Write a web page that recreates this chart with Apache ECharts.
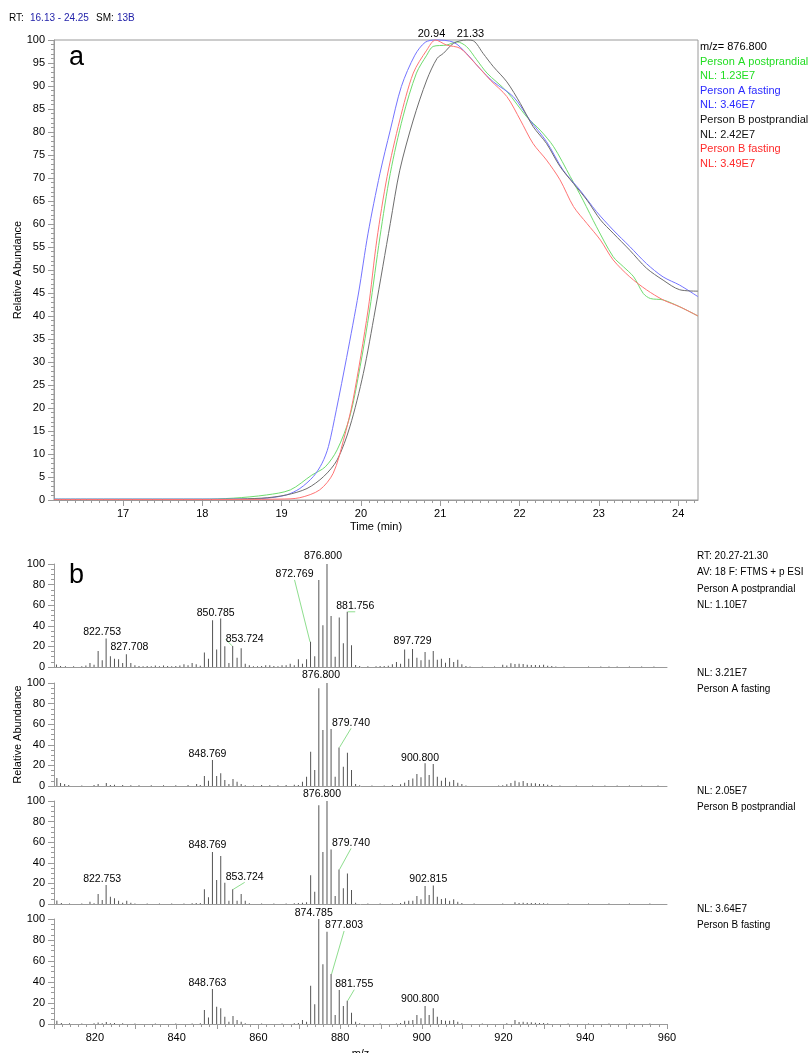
<!DOCTYPE html>
<html><head><meta charset="utf-8">
<script src="https://cdn.jsdelivr.net/npm/echarts@6/dist/echarts.min.js"></script>
<style>html,body{margin:0;padding:0;background:#fff}#c{width:810px;height:1053px}</style>
</head><body><div id="c"></div>
<script>
// ---------- Panel a: extracted ion chromatograms [time (min), relative abundance] ----------
const personAPostprandial = [[16.13,0.2],[17.0,0.2],[18.0,0.2],[18.39,0.4],[18.81,1.1],[19.11,2.2],[19.38,5.4],[19.55,7.2],[19.70,10.9],[19.86,18.1],[19.99,29],[20.11,41.3],[20.24,57.2],[20.37,71],[20.53,83.3],[20.70,92.8],[20.83,96.7],[20.91,98.6],[21.08,98.9],[21.21,99.6],[21.33,98.6],[21.46,95.7],[21.59,92.8],[21.84,88.8],[22.09,83.3],[22.26,80.4],[22.43,76.8],[22.64,70.3],[22.80,65.2],[22.97,59.4],[23.18,52.9],[23.31,50.7],[23.44,48.5],[23.56,44.9],[23.65,43.8],[23.81,43.5],[24.02,42],[24.25,40]];
const personAFasting = [[16.13,0.2],[17.0,0.2],[18.0,0.2],[18.5,0.2],[18.81,0.4],[19.06,1.1],[19.23,2.5],[19.40,5.1],[19.51,8],[19.59,11.6],[19.69,19.6],[19.82,31],[19.97,45],[20.09,58],[20.24,71],[20.37,80.4],[20.51,89.9],[20.68,96.7],[20.81,99.5],[20.94,100],[21.17,99.5],[21.33,97.1],[21.50,93.8],[21.67,90.9],[21.92,87.7],[22.13,82.6],[22.34,77.9],[22.55,71.7],[22.76,67.4],[22.97,62.7],[23.18,58.7],[23.39,55.1],[23.60,51.4],[23.81,48.5],[24.02,46.7],[24.25,44.2]];
const personBPostprandial = [[16.13,0.1],[17.0,0.1],[18.0,0.1],[18.75,0.4],[19.06,1.1],[19.32,2.5],[19.53,5.1],[19.70,8.7],[19.86,15.9],[20.03,27.5],[20.18,41.3],[20.37,60.1],[20.49,71.7],[20.66,82.6],[20.83,91.3],[20.96,96],[21.04,97.1],[21.17,99.3],[21.33,100],[21.42,99.8],[21.54,97.1],[21.67,94.2],[21.84,90.9],[22.01,86.2],[22.17,81.2],[22.34,77.5],[22.51,72.5],[22.68,68.8],[22.85,65.2],[23.02,60.9],[23.18,58],[23.39,54.3],[23.60,50.4],[23.81,47.8],[24.02,45.7],[24.25,45.4]];
const personBFasting = [[16.13,0.1],[17.0,0.1],[18.0,0.1],[18.98,0.2],[19.23,0.5],[19.48,2.2],[19.65,5.8],[19.78,13],[19.90,21.7],[20.09,41.3],[20.20,56.5],[20.33,70.3],[20.49,82.6],[20.66,92.8],[20.83,97.8],[20.94,100],[21.08,98.9],[21.25,98.2],[21.42,95.3],[21.63,91.3],[21.84,87.7],[22.01,82.6],[22.17,77.5],[22.34,73.9],[22.51,69.6],[22.68,63.8],[22.85,60.1],[23.02,56.5],[23.18,52.2],[23.39,48.5],[23.60,45.7],[23.81,43.5],[24.02,42],[24.25,40]];
const timeRange = [16.13, 24.25];
const timeTicks = [17, 18, 19, 20, 21, 22, 23, 24];
const apexLabels = [[20.94, 100], [21.33, 100]];
const chromHeader = ['RT:', '16.13 - 24.25', 'SM:', '13B'];
const chromLegend = ['m/z= 876.800', 'Person A postprandial', 'NL: 1.23E7', 'Person A fasting', 'NL: 3.46E7', 'Person B postprandial', 'NL: 2.42E7', 'Person B fasting', 'NL: 3.49E7'];

// ---------- Panel b: averaged mass spectra [m/z, relative abundance] ----------
const specAPostprandial = [[810.6,2.5],[811.6,1.0],[812.8,0.8],[814.8,0.8],[816.8,0.8],[817.8,1.5],[818.8,3.9],[819.8,2.3],[820.8,15.6],[821.8,6.5],[822.753,27.6],[823.8,10.4],[824.8,8.1],[825.8,7.5],[826.8,3.9],[827.708,12.3],[828.8,3.9],[829.8,1.6],[830.8,1.0],[831.8,0.8],[832.8,1.0],[833.8,0.8],[834.8,1.5],[835.8,0.8],[836.8,1.5],[837.8,1.0],[838.8,0.8],[839.8,1.0],[840.8,1.5],[841.8,2.6],[842.8,1.6],[843.8,3.9],[844.8,2.6],[845.8,1.2],[846.8,14.0],[847.8,8.1],[848.8,45.5],[849.8,16.9],[850.785,47.0],[851.8,20.1],[852.8,3.9],[853.724,20.5],[854.8,9.1],[855.8,18.2],[856.8,3.2],[857.8,1.6],[858.8,0.8],[859.8,0.8],[860.8,1.0],[861.8,1.6],[862.8,1.6],[863.8,1.0],[864.8,0.7],[865.8,1.6],[866.8,1.6],[867.8,3.2],[868.8,1.6],[869.8,7.5],[870.8,3.2],[871.8,7.5],[872.769,24.4],[873.8,10.4],[874.8,84.4],[875.8,40.6],[876.800,100],[877.8,49.4],[878.8,10.0],[879.8,48.0],[880.8,23.0],[881.756,53.6],[882.8,21.0],[883.8,2.0],[884.8,1.0],[886.8,0.8],[888.8,0.8],[889.8,1.0],[890.8,1.0],[891.8,1.2],[892.8,2.6],[893.8,4.9],[894.8,3.2],[895.8,16.9],[896.8,8.1],[897.729,17.5],[898.8,9.1],[899.8,6.5],[900.8,14.6],[901.8,7.1],[902.8,15.6],[903.8,7.1],[904.8,8.1],[905.8,4.2],[906.8,8.8],[907.8,4.9],[908.8,7.1],[909.8,2.6],[910.8,1.0],[911.8,0.5],[914.8,0.4],[917.8,0.5],[919.8,2.3],[920.8,1.5],[921.8,3.6],[922.8,2.9],[923.8,3.2],[924.8,2.9],[925.8,2.3],[926.8,2.0],[927.8,2.0],[928.8,1.6],[929.8,2.3],[930.8,1.3],[931.8,1.0],[932.8,0.6],[934.8,0.4],[940.8,0.4],[943.8,0.5],[945.8,0.5],[947.8,0.4],[950.8,0.4],[953.8,0.4],[956.8,0.4]];
const specAFasting = [[810.7,7.7],[811.6,2.9],[812.6,1.9],[813.6,1.0],[816.8,0.5],[819.8,1.0],[820.8,1.9],[822.8,2.9],[823.8,1.0],[824.8,1.3],[826.8,1.0],[828.8,0.8],[830.8,0.8],[833.8,0.8],[836.8,0.8],[839.8,0.8],[842.8,1.0],[844.9,1.9],[845.8,1.0],[846.8,9.7],[847.8,5.2],[848.769,25.2],[849.8,9.7],[850.8,12.3],[851.8,5.8],[852.8,1.9],[853.8,6.8],[854.8,4.2],[855.8,1.9],[856.8,0.8],[858.8,0.6],[860.8,1.0],[862.8,0.8],[864.8,0.8],[866.8,1.0],[868.8,1.2],[869.8,1.0],[870.8,4.2],[871.8,9.1],[872.8,33.3],[873.8,15.5],[874.8,94.8],[875.8,54.4],[876.800,100],[877.8,55.3],[878.8,9.0],[879.740,37.5],[880.8,18.8],[881.8,32.4],[882.8,15.5],[883.8,1.9],[884.8,0.8],[887.8,0.6],[890.8,0.6],[892.8,1.0],[894.8,1.6],[895.8,3.2],[896.8,5.8],[897.8,7.4],[898.8,11.7],[899.8,8.4],[900.800,22.0],[901.8,10.7],[902.8,21.4],[903.8,9.1],[904.8,5.2],[905.8,8.1],[906.8,4.2],[907.8,5.8],[908.8,3.2],[909.8,1.9],[910.8,0.6],[918.8,0.5],[919.8,0.8],[920.8,1.6],[921.8,2.9],[922.8,5.2],[923.8,3.6],[924.8,4.9],[925.8,2.9],[926.8,2.6],[927.8,2.6],[928.8,1.9],[929.8,1.9],[930.8,1.3],[931.8,1.0],[933.8,0.5],[937.8,0.4],[941.8,0.4],[944.8,0.4],[947.8,0.4],[950.8,0.4],[953.8,0.4],[957.8,0.4]];
const specBPostprandial = [[810.7,3.5],[811.8,1.0],[813.8,0.6],[816.8,0.5],[818.8,2.3],[819.8,0.8],[820.8,9.7],[821.8,3.9],[822.753,18.4],[823.8,7.1],[824.8,5.5],[825.8,3.2],[826.8,1.3],[827.8,3.2],[828.8,1.3],[829.8,0.6],[832.8,0.5],[835.8,0.5],[838.8,0.6],[841.8,0.6],[843.8,0.8],[844.8,1.0],[845.8,1.0],[846.8,14.2],[847.8,6.5],[848.769,50.6],[849.8,23.2],[850.8,46.5],[851.8,20.6],[852.8,3.2],[853.724,14.2],[854.8,3.2],[855.8,9.7],[856.8,3.2],[857.8,0.8],[860.8,0.5],[863.8,0.5],[866.8,0.6],[868.8,0.8],[869.8,1.0],[870.8,1.3],[871.8,1.6],[872.8,28.0],[873.8,11.9],[874.8,95.8],[875.8,50.6],[876.800,100],[877.8,52.9],[878.8,7.7],[879.740,33.5],[880.8,15.2],[881.8,29.7],[882.8,13.5],[883.8,1.3],[886.8,0.5],[889.8,0.5],[892.8,0.6],[894.8,1.0],[895.8,2.3],[896.8,3.2],[897.8,3.2],[898.8,7.7],[899.8,4.5],[900.8,17.4],[901.8,8.7],[902.815,18.0],[903.8,7.1],[904.8,4.8],[905.8,5.5],[906.8,3.2],[907.8,4.5],[908.8,2.3],[909.8,1.0],[912.8,0.4],[919.8,0.4],[922.8,1.6],[923.8,1.0],[924.8,1.3],[925.8,1.0],[926.8,1.0],[927.8,1.0],[928.8,0.8],[929.8,0.8],[930.8,0.6],[935.8,0.4],[940.8,0.4],[945.8,0.4],[950.8,0.4],[955.8,0.4]];
const specBFasting = [[810.7,3.2],[811.8,1.0],[813.8,0.6],[816.8,0.5],[819.8,0.6],[820.8,1.5],[821.8,0.8],[822.8,2.0],[823.8,0.8],[824.8,1.0],[826.8,0.6],[829.8,0.4],[834.8,0.4],[839.8,0.4],[843.8,0.5],[845.8,0.8],[846.8,13.3],[847.8,6.3],[848.763,33.3],[849.8,16.5],[850.8,14.9],[851.8,7.0],[852.8,2.2],[853.8,7.6],[854.8,3.8],[855.8,2.2],[856.8,0.6],[860.8,0.4],[865.8,0.4],[868.8,0.6],[869.8,1.0],[870.8,3.8],[871.8,2.2],[872.8,36.5],[873.8,18.7],[874.785,100],[875.8,56.8],[876.8,87.9],[877.803,47.6],[878.8,8.6],[879.8,32.4],[880.8,17.1],[881.755,22.2],[882.8,10.8],[883.8,2.2],[884.8,0.6],[889.8,0.4],[893.8,0.5],[894.8,1.0],[895.8,3.2],[896.8,3.2],[897.8,3.8],[898.8,8.6],[899.8,5.4],[900.800,17.1],[901.8,8.6],[902.8,14.9],[903.8,7.0],[904.8,3.8],[905.8,3.2],[906.8,3.2],[907.8,3.8],[908.8,2.2],[909.8,0.8],[914.8,0.4],[920.8,0.6],[922.8,3.8],[923.8,2.0],[924.8,2.2],[925.8,1.6],[926.8,1.6],[927.8,1.3],[928.8,1.0],[929.8,1.0],[930.8,0.6],[935.8,0.4],[940.8,0.4],[945.8,0.4],[950.8,0.4],[955.8,0.4]];
const mzRange = [810, 960];
const labeledAPostprandial = [822.753, 827.708, 850.785, 853.724, 872.769, 876.800, 881.756, 897.729];
const labeledAFasting = [848.769, 876.800, 879.740, 900.800];
const labeledBPostprandial = [822.753, 848.769, 853.724, 876.800, 879.740, 902.815];
const labeledBFasting = [848.763, 874.785, 877.803, 881.755, 900.800];
const notesAPostprandial = ['RT: 20.27-21.30', 'AV: 18 F: FTMS + p ESI', 'Person A postprandial', 'NL: 1.10E7'];
const notesAFasting = ['NL: 3.21E7', 'Person A fasting'];
const notesBPostprandial = ['NL: 2.05E7', 'Person B postprandial'];
const notesBFasting = ['NL: 3.64E7', 'Person B fasting'];

// ---------- styling / layout (not data) ----------
const FONT = '"Liberation Sans", Arial, Helvetica, sans-serif';
const AXIS = '#9a9a9a';
const C_GREEN = '#22dd22', C_BLUE = '#2a2aff', C_RED = '#ff2a2a';
const LINE_COL = ['#6fdc6f', '#7474ff', '#6e6e6e', '#ff7474'];
// label offsets [dx, dy, leader?] aligned with labeled lists
const offAPost = [[-4,1],[3,0],[-5,2],[12,1,1],[-16,-60,1],[-4,0],[8,2,1],[0,0]];
const offAFast = [[-5,2],[-6,0],[12,-17,1],[-5,2]];
const offBPost = [[-4,2],[-5,1],[12,-5,1],[-5,1],[12,-19,1],[-5,1]];
const offBFast = [[-5,2],[-5,2],[13,-41,1],[7,-9,1],[-5,1]];
const apexOffsets = [[-4, 0], [4, 0]];
const specTops = [564, 683, 801, 919];
const specH = [103, 103, 103, 105];

const minorTimeTicks = [];
for (let k = 162; k <= 242; k++) minorTimeTicks.push(k / 10);

function buildSpectrum(peaks, labeled, offsets) {
  const data = [], layouts = {};
  peaks.forEach(([mz, v], i) => {
    const k = labeled.findIndex(l => Math.abs(l - mz) < 1e-6);
    if (k >= 0) {
      const o = offsets[k];
      data.push({
        value: [mz, v],
        label: { show: true, formatter: mz.toFixed(3) },
        labelLine: { show: !!o[2], lineStyle: { color: '#8ede8e', width: 1 } }
      });
      layouts[i] = { dx: o[0], dy: o[1] };
    } else {
      data.push([mz, v]);
    }
  });
  return { data, layouts };
}

const spectra = [
  buildSpectrum(specAPostprandial, labeledAPostprandial, offAPost),
  buildSpectrum(specAFasting, labeledAFasting, offAFast),
  buildSpectrum(specBPostprandial, labeledBPostprandial, offBPost),
  buildSpectrum(specBFasting, labeledBFasting, offBFast)
];

const chart = echarts.init(document.getElementById('c'), null, { renderer: 'canvas' });

const grids = [{ left: 54, top: 40, width: 644, height: 460, show: true, borderColor: AXIS, borderWidth: 1, backgroundColor: 'transparent', containLabel: false, outerBoundsMode: 'none' }];
specTops.forEach((t, i) => grids.push({ left: 54, top: t, width: 613, height: specH[i], containLabel: false, outerBoundsMode: 'none' }));

const labelStyle = { color: '#000', fontSize: 11, fontFamily: FONT };

const xAxes = [
  { gridIndex: 0, type: 'value', position: 'bottom', min: timeRange[0], max: timeRange[1],
    axisLine: { lineStyle: { color: AXIS } }, splitLine: { show: false },
    axisTick: { length: 6, lineStyle: { color: AXIS }, customValues: timeTicks },
    axisLabel: Object.assign({ customValues: timeTicks, margin: 8 }, labelStyle),
    name: 'Time (min)', nameLocation: 'middle', nameGap: 21,
    nameTextStyle: { color: '#000', fontSize: 11, fontFamily: FONT } },
  { gridIndex: 0, type: 'value', position: 'bottom', min: timeRange[0], max: timeRange[1],
    axisLine: { show: false }, splitLine: { show: false }, axisLabel: { show: false },
    axisTick: { length: 3, lineStyle: { color: AXIS }, customValues: minorTimeTicks } }
];
specTops.forEach((t, i) => {
  const last = i === specTops.length - 1;
  xAxes.push({
    gridIndex: i + 1, type: 'value', min: mzRange[0], max: mzRange[1], interval: 10,
    axisLine: { lineStyle: { color: AXIS } }, splitLine: { show: false },
    axisTick: { show: last, length: 5, lineStyle: { color: AXIS } },
    minorTick: { show: last, splitNumber: 5, length: 3, lineStyle: { color: AXIS } },
    axisLabel: Object.assign({ show: last, margin: 8, formatter: v => (v % 20 === 0 ? String(v) : '') }, labelStyle),
    name: last ? 'm/z' : '', nameLocation: 'middle', nameGap: 24,
    nameTextStyle: { color: '#000', fontSize: 11, fontFamily: FONT }
  });
});

const yAxes = [
  { gridIndex: 0, type: 'value', min: 0, max: 100, interval: 5,
    axisLine: { show: true, lineStyle: { color: AXIS } }, splitLine: { show: false },
    axisTick: { show: true, length: 6, lineStyle: { color: AXIS } },
    minorTick: { show: true, splitNumber: 5, length: 3, lineStyle: { color: AXIS } },
    axisLabel: Object.assign({ margin: 9 }, labelStyle),
    name: 'Relative Abundance', nameLocation: 'middle', nameGap: 31, nameRotate: 90, nameMoveOverlap: false,
    nameTextStyle: { color: '#000', fontSize: 11, fontFamily: FONT } }
];
specTops.forEach((t, i) => {
  yAxes.push({
    gridIndex: i + 1, type: 'value', min: 0, max: 100, interval: 20,
    axisLine: { show: true, lineStyle: { color: AXIS } }, splitLine: { show: false },
    axisTick: { show: true, length: 6, lineStyle: { color: AXIS } },
    minorTick: { show: true, splitNumber: 4, length: 3, lineStyle: { color: AXIS } },
    axisLabel: Object.assign({ margin: 9 }, labelStyle),
    name: i === 1 ? 'Relative Abundance' : '', nameLocation: 'middle', nameGap: 31, nameRotate: 90, nameMoveOverlap: false,
    nameTextStyle: { color: '#000', fontSize: 11, fontFamily: FONT }
  });
});

const chromSeries = [personAPostprandial, personAFasting, personBPostprandial, personBFasting].map((d, i) => ({
  type: 'line', xAxisIndex: 0, yAxisIndex: 0, data: d, showSymbol: false, symbol: 'none',
  smooth: 0.3, lineStyle: { width: 1, color: LINE_COL[i] }, itemStyle: { color: LINE_COL[i] },
  clip: false, z: 3
}));
chromSeries[1].markPoint = {
  symbol: 'circle', symbolSize: 0,
  data: apexLabels.map((p, i) => ({ coord: p, value: p[0].toFixed(2), label: { offset: apexOffsets[i] } })),
  label: { show: true, position: 'top', distance: 1, formatter: p => p.value, color: '#000', fontSize: 11, fontFamily: FONT }
};

const specSeries = spectra.map((s, i) => ({
  type: 'bar', xAxisIndex: i + 2, yAxisIndex: i + 1, data: s.data, barWidth: 1,
  itemStyle: { color: '#555' }, animation: false,
  label: { show: false, position: 'top', distance: 2, color: '#000', fontSize: 10.5, fontFamily: FONT },
  labelLayout: p => s.layouts[p.dataIndex] || {},
  emphasis: { disabled: true }
}));

function txt(x, y, s, color, size, extra) {
  return Object.assign({ type: 'text', x: x, y: y, silent: true, z: 100,
    style: { text: s, fill: color, font: size + 'px ' + FONT, verticalAlign: 'middle', align: 'left' } }, extra || {});
}
const graphics = [];
const hdrX = [9, 30, 96, 117];
const hdrCol = ['#000', '#1e1ea8', '#000', '#1e1ea8'];
chromHeader.forEach((s, i) => graphics.push(txt(hdrX[i], 18, s, hdrCol[i], 10)));
const legCol = ['#000', C_GREEN, C_GREEN, C_BLUE, C_BLUE, '#111', '#111', C_RED, C_RED];
chromLegend.forEach((s, i) => graphics.push(txt(700, 47 + i * 14.6, s, legCol[i], 11)));
notesAPostprandial.forEach((s, i) => graphics.push(txt(697, 556 + i * 16.5, s, '#000', 10)));
notesAFasting.forEach((s, i) => graphics.push(txt(697, 673 + i * 16, s, '#000', 10)));
notesBPostprandial.forEach((s, i) => graphics.push(txt(697, 791 + i * 16, s, '#000', 10)));
notesBFasting.forEach((s, i) => graphics.push(txt(697, 909 + i * 16, s, '#000', 10)));
graphics.push(txt(69, 58, 'a', '#000', 27));
graphics.push(txt(69, 576, 'b', '#000', 27));

chart.setOption({
  animation: false,
  backgroundColor: '#fff',
  textStyle: { fontFamily: FONT },
  grid: grids,
  xAxis: xAxes,
  yAxis: yAxes,
  series: chromSeries.concat(specSeries),
  graphic: graphics
});
</script></body></html>
